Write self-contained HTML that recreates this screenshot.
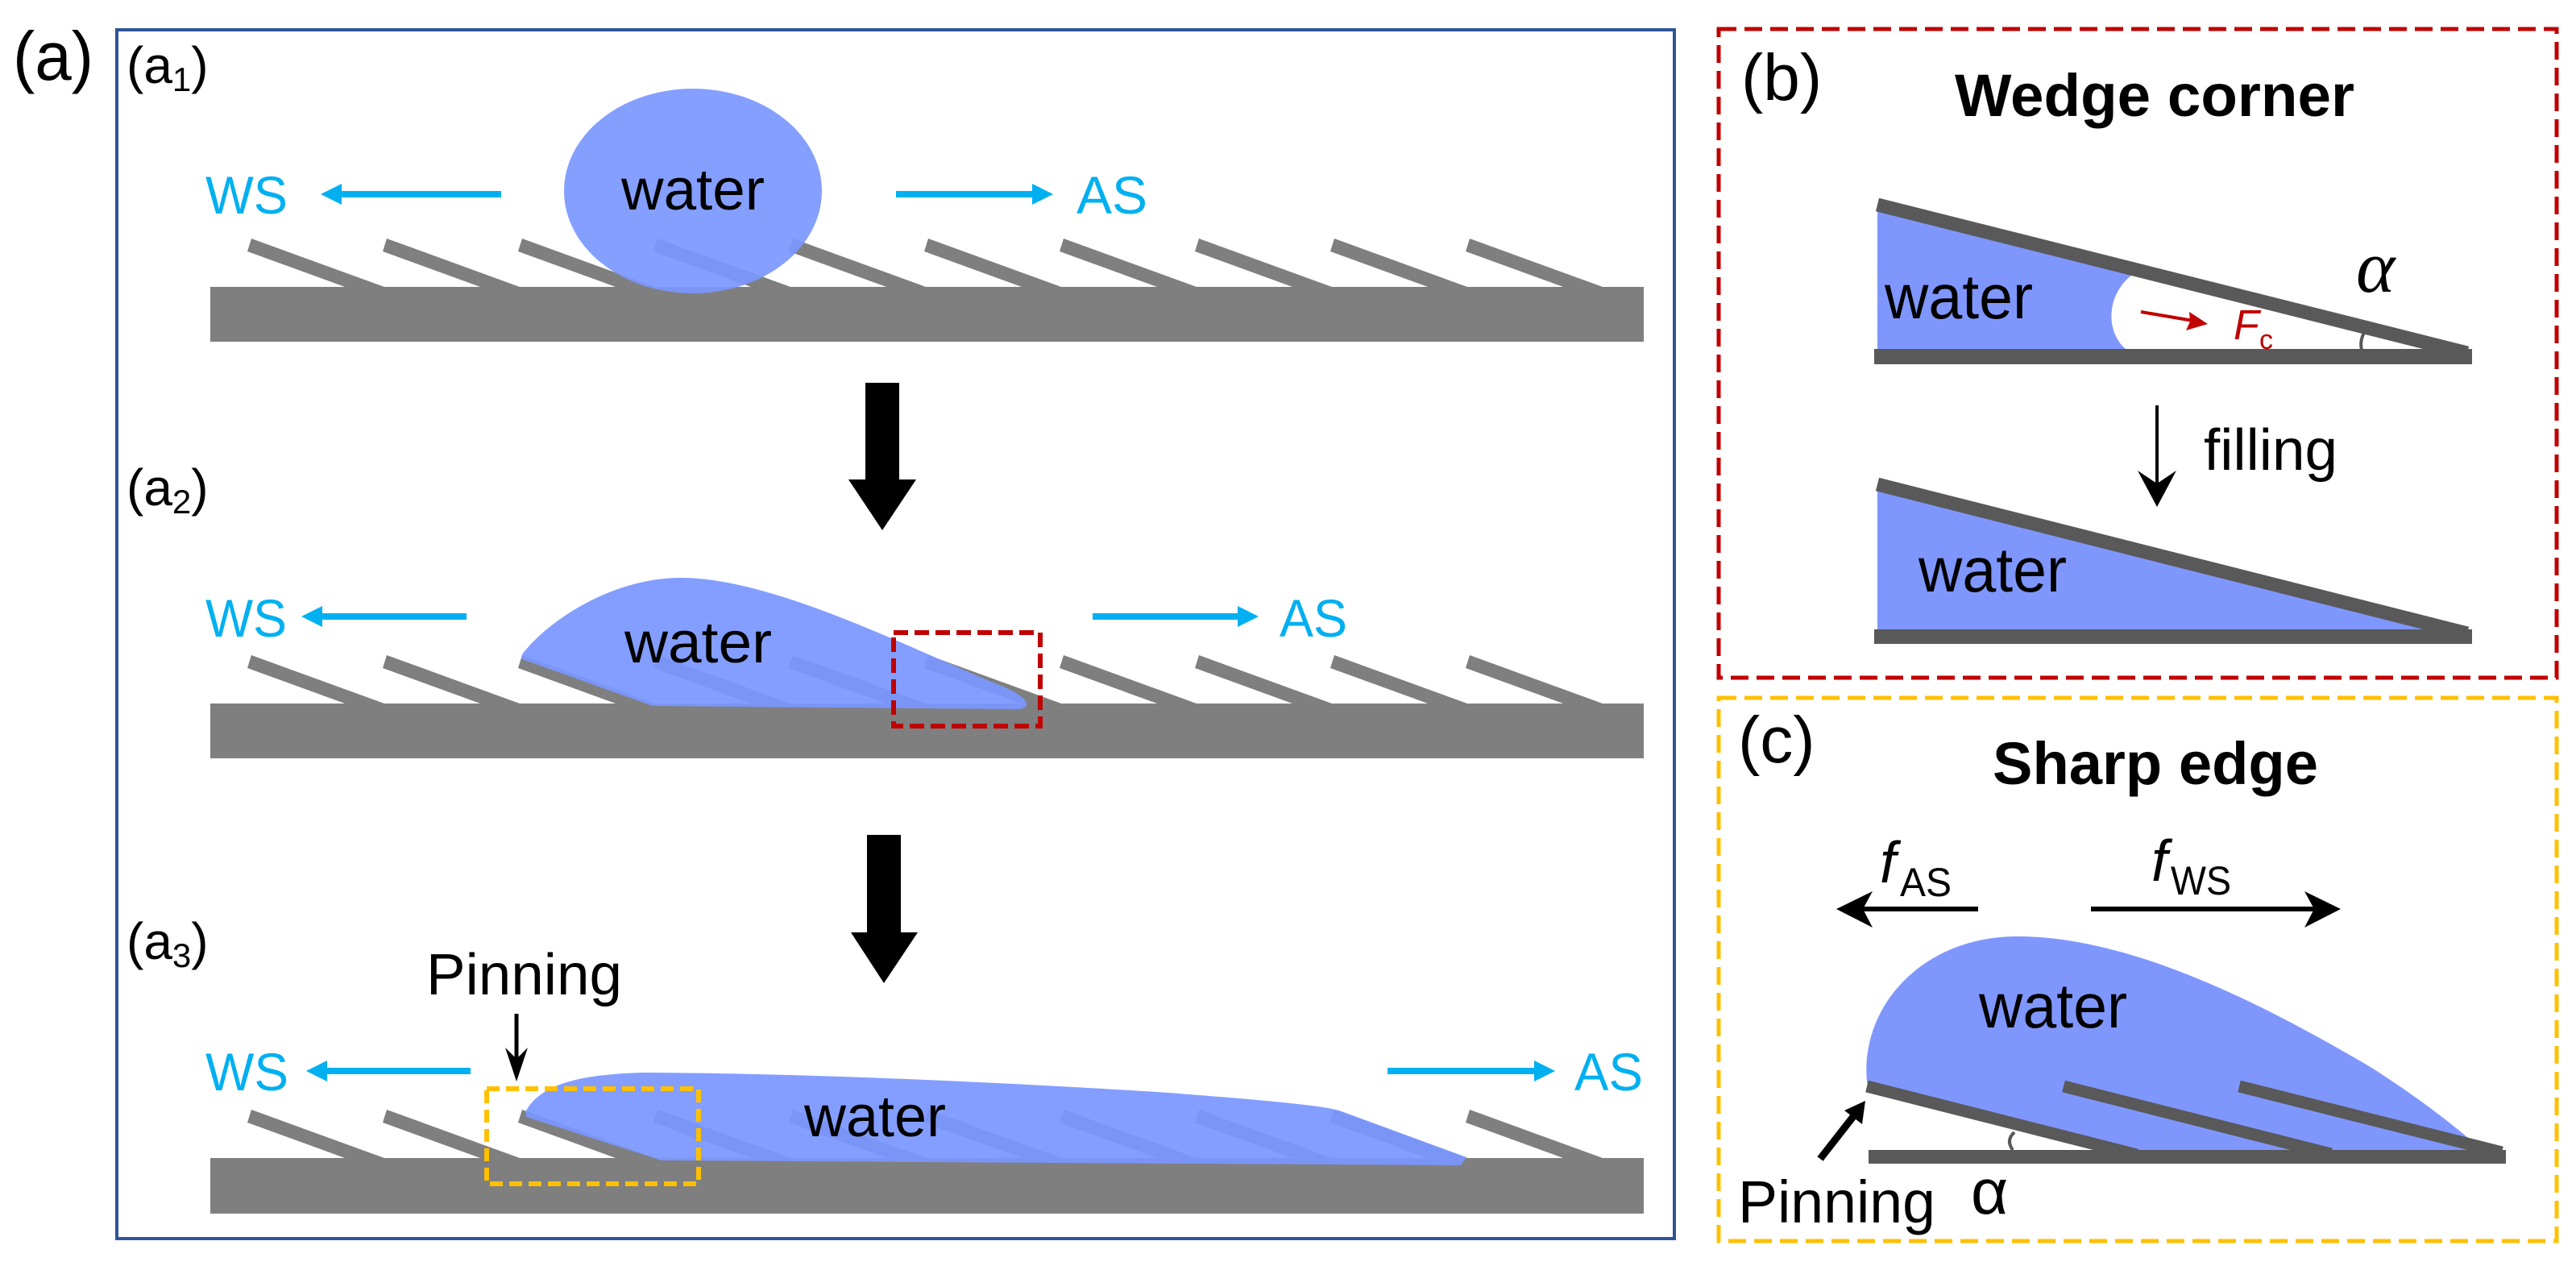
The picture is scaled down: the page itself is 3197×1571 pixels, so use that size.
<!DOCTYPE html>
<html><head><meta charset="utf-8"><style>
html,body{margin:0;padding:0;background:#fff;}
svg{display:block;}
text{font-family:"Liberation Sans",Arial,sans-serif;}
</style></head><body>
<svg width="3197" height="1571" viewBox="0 0 3197 1571" xmlns="http://www.w3.org/2000/svg">
<defs>
<g id="fin"><polygon points="0,0 165,60 116,60 -5,16" fill="#7f7f7f"/></g>
</defs>

<!-- Panel a frame -->
<rect x="145" y="37" width="1933" height="1500" fill="none" stroke="#2f5597" stroke-width="4"/>
<text x="16" y="99" font-size="85" textLength="100" lengthAdjust="spacingAndGlyphs">(a)</text>
<text x="157" y="103" font-size="64">(a<tspan font-size="42" dy="10">1</tspan><tspan dy="-10">)</tspan></text>
<text x="157" y="627" font-size="64">(a<tspan font-size="42" dy="10">2</tspan><tspan dy="-10">)</tspan></text>
<text x="157" y="1190" font-size="64">(a<tspan font-size="42" dy="10">3</tspan><tspan dy="-10">)</tspan></text>

<!-- a1 -->
<rect x="261" y="356" width="1779" height="68" fill="#7f7f7f"/>
<g transform="translate(0,296)">
<use href="#fin" x="312"/><use href="#fin" x="480"/><use href="#fin" x="648"/><use href="#fin" x="816"/><use href="#fin" x="984"/><use href="#fin" x="1152"/><use href="#fin" x="1320"/><use href="#fin" x="1488"/><use href="#fin" x="1656"/><use href="#fin" x="1824"/>
</g>
<ellipse cx="860" cy="237" rx="160" ry="127" fill="#7b97ff" fill-opacity="0.92"/>
<text x="771" y="260" font-size="72" textLength="178" lengthAdjust="spacingAndGlyphs">water</text>
<line x1="622" y1="241" x2="420" y2="241" stroke="#00b0f0" stroke-width="8"/>
<polygon points="398,241 424,228 424,254" fill="#00b0f0"/>
<text x="255" y="265" font-size="66" fill="#00b0f0" textLength="102" lengthAdjust="spacingAndGlyphs">WS</text>
<line x1="1112" y1="241" x2="1285" y2="241" stroke="#00b0f0" stroke-width="8"/>
<polygon points="1307,241 1281,228 1281,254" fill="#00b0f0"/>
<text x="1336" y="265" font-size="66" fill="#00b0f0" textLength="88" lengthAdjust="spacingAndGlyphs">AS</text>

<!-- arrow 1 -->
<rect x="1074" y="475" width="42" height="120" fill="#000"/>
<polygon points="1053,595 1137,595 1095,658" fill="#000"/>

<!-- a2 -->
<rect x="261" y="873" width="1779" height="68" fill="#7f7f7f"/>
<g transform="translate(0,813)">
<use href="#fin" x="312"/><use href="#fin" x="480"/><use href="#fin" x="648"/><use href="#fin" x="816"/><use href="#fin" x="984"/><use href="#fin" x="1152"/><use href="#fin" x="1320"/><use href="#fin" x="1488"/><use href="#fin" x="1656"/><use href="#fin" x="1824"/>
</g>
<path d="M648,812 C680,770 760,717 845,717 C960,717 1130,805 1240,850 C1285,868 1278,880 1262,880 L810,876 L648,818 Z" fill="#7b97ff" fill-opacity="0.93"/>
<text x="775" y="822" font-size="72" textLength="183" lengthAdjust="spacingAndGlyphs">water</text>
<line x1="579" y1="765" x2="396" y2="765" stroke="#00b0f0" stroke-width="8"/>
<polygon points="374,765 400,752 400,778" fill="#00b0f0"/>
<text x="255" y="790" font-size="66" fill="#00b0f0" textLength="101" lengthAdjust="spacingAndGlyphs">WS</text>
<line x1="1356" y1="765" x2="1540" y2="765" stroke="#00b0f0" stroke-width="8"/>
<polygon points="1562,765 1536,752 1536,778" fill="#00b0f0"/>
<text x="1588" y="790" font-size="66" fill="#00b0f0" textLength="84" lengthAdjust="spacingAndGlyphs">AS</text>
<rect x="1109" y="785" width="182" height="116" fill="none" stroke="#c00000" stroke-width="6" stroke-dasharray="18,8"/>

<!-- arrow 2 -->
<rect x="1076" y="1036" width="42" height="121" fill="#000"/>
<polygon points="1056,1157 1139,1157 1097,1220" fill="#000"/>

<!-- a3 -->
<rect x="261" y="1437" width="1779" height="69" fill="#7f7f7f"/>
<g transform="translate(0,1377)">
<use href="#fin" x="312"/><use href="#fin" x="480"/><use href="#fin" x="648"/><use href="#fin" x="816"/><use href="#fin" x="984"/><use href="#fin" x="1152"/><use href="#fin" x="1320"/><use href="#fin" x="1488"/><use href="#fin" x="1656"/><use href="#fin" x="1824"/>
</g>
<path d="M653,1378 C672,1345 720,1333 800,1331 C1000,1332 1250,1343 1450,1356 C1580,1366 1640,1372 1662,1378 L1820,1436 L1813,1446 L821,1440 L653,1386 Z" fill="#7b97ff" fill-opacity="0.93"/>
<text x="998" y="1410" font-size="72" textLength="176" lengthAdjust="spacingAndGlyphs">water</text>
<line x1="584" y1="1329" x2="402" y2="1329" stroke="#00b0f0" stroke-width="8"/>
<polygon points="380,1329 406,1316 406,1342" fill="#00b0f0"/>
<text x="255" y="1353" font-size="66" fill="#00b0f0" textLength="103" lengthAdjust="spacingAndGlyphs">WS</text>
<line x1="1722" y1="1329" x2="1908" y2="1329" stroke="#00b0f0" stroke-width="8"/>
<polygon points="1930,1329 1904,1316 1904,1342" fill="#00b0f0"/>
<text x="1954" y="1353" font-size="66" fill="#00b0f0" textLength="85" lengthAdjust="spacingAndGlyphs">AS</text>
<text x="529" y="1234" font-size="72" textLength="243" lengthAdjust="spacingAndGlyphs">Pinning</text>
<line x1="641" y1="1258" x2="641" y2="1318" stroke="#000" stroke-width="5"/>
<polygon points="641,1342 627,1300 641,1314 655,1300" fill="#000"/>
<rect x="604" y="1351" width="263" height="118" fill="none" stroke="#ffc000" stroke-width="6" stroke-dasharray="16,8"/>

<!-- Panel b -->
<rect x="2133" y="36" width="1040" height="805" fill="none" stroke="#c00000" stroke-width="5" stroke-dasharray="22,10"/>
<text x="2161" y="124" font-size="82">(b)</text>
<text x="2674" y="144" font-size="74" font-weight="bold" text-anchor="middle" textLength="496" lengthAdjust="spacingAndGlyphs">Wedge corner</text>
<path d="M2330,262 L2646,341 C2615,365 2612,410 2638,433 L2330,433 Z" fill="#7f97fd"/>
<line x1="2330" y1="254" x2="3062" y2="438" stroke="#595959" stroke-width="17"/>
<rect x="2326" y="433" width="742" height="19" fill="#595959"/>
<path d="M2937,408 Q2925,425 2934,442" fill="none" stroke="#595959" stroke-width="4"/>
<text x="2339" y="395" font-size="78" textLength="184" lengthAdjust="spacingAndGlyphs">water</text>
<line x1="2657" y1="387" x2="2722" y2="398" stroke="#c00000" stroke-width="4"/>
<polygon points="2740,402 2713,410 2718,399 2717,387" fill="#c00000"/>
<text x="2772" y="421" font-size="52" font-style="italic" fill="#c00000">F</text>
<text x="2804" y="433" font-size="34" fill="#c00000">c</text>
<text x="2924" y="362" font-size="92" font-style="italic" font-family="Liberation Serif, serif" style="font-family:'Liberation Serif',serif">α</text>
<line x1="2677" y1="503" x2="2677" y2="605" stroke="#000" stroke-width="4"/>
<polygon points="2677,629 2653,584 2677,600 2701,584" fill="#000"/>
<text x="2735" y="583" font-size="72" textLength="166" lengthAdjust="spacingAndGlyphs">filling</text>
<polygon points="2330,609 3045,782 2330,782" fill="#7f97fd"/>
<line x1="2330" y1="601" x2="3062" y2="786" stroke="#595959" stroke-width="17"/>
<rect x="2326" y="781" width="742" height="18" fill="#595959"/>
<text x="2381" y="734" font-size="78" textLength="184" lengthAdjust="spacingAndGlyphs">water</text>

<!-- Panel c -->
<rect x="2133" y="866" width="1040" height="674" fill="none" stroke="#ffc000" stroke-width="5" stroke-dasharray="22,10"/>
<text x="2157" y="946" font-size="82">(c)</text>
<text x="2675" y="973" font-size="74" font-weight="bold" text-anchor="middle" textLength="404" lengthAdjust="spacingAndGlyphs">Sharp edge</text>
<text x="2333" y="1095" font-size="72" font-style="italic">f</text>
<text x="2358" y="1112" font-size="50" textLength="64" lengthAdjust="spacingAndGlyphs">AS</text>
<text x="2670" y="1093" font-size="72" font-style="italic">f</text>
<text x="2694" y="1110" font-size="50" textLength="75" lengthAdjust="spacingAndGlyphs">WS</text>
<line x1="2455" y1="1128" x2="2305" y2="1128" stroke="#000" stroke-width="6"/>
<polygon points="2279,1128 2324,1106 2312,1128 2324,1151" fill="#000"/>
<line x1="2595" y1="1128" x2="2880" y2="1128" stroke="#000" stroke-width="6"/>
<polygon points="2905,1128 2860,1106 2872,1128 2860,1151" fill="#000"/>
<path d="M2317,1342 C2308,1250 2385,1162 2504,1162 C2640,1162 2800,1240 2945,1326 C3010,1368 3050,1400 3080,1427 L2646,1427 L2317,1344 Z" fill="#7f97fd"/>
<text x="2456" y="1275" font-size="78" textLength="184" lengthAdjust="spacingAndGlyphs">water</text>
<rect x="2319" y="1427" width="791" height="17" fill="#595959"/>
<line x1="2317" y1="1348" x2="2652" y2="1433" stroke="#595959" stroke-width="15"/>
<line x1="2561" y1="1348" x2="2893" y2="1432" stroke="#595959" stroke-width="15"/>
<line x1="2779" y1="1348" x2="3105" y2="1430" stroke="#595959" stroke-width="15"/>
<path d="M2500,1405 Q2489,1415 2498,1427" fill="none" stroke="#595959" stroke-width="4"/>
<line x1="2259" y1="1438" x2="2302" y2="1383" stroke="#000" stroke-width="9"/>
<polygon points="2315,1366 2311,1395 2289,1378" fill="#000"/>
<text x="2157" y="1517" font-size="74" textLength="245" lengthAdjust="spacingAndGlyphs">Pinning</text>
<text x="2446" y="1506" font-size="80">α</text>
</svg>
</body></html>
